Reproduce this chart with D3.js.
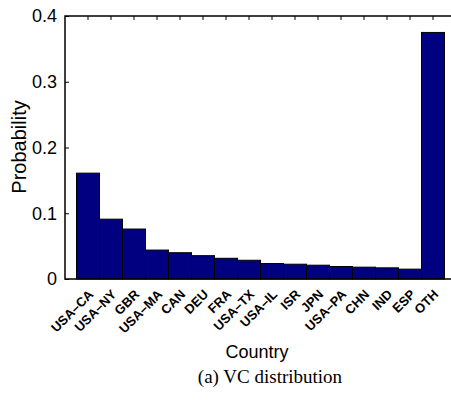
<!DOCTYPE html>
<html>
<head>
<meta charset="utf-8">
<script src="https://cdn.jsdelivr.net/npm/d3@7"></script>
<style>
  body { margin: 0; background: #fff; }
  svg { display: block; }
</style>
</head>
<body>
<div id="chart"></div>
<script>
var countries = ["USA\u2013CA", "USA\u2013NY", "GBR", "USA\u2013MA", "CAN", "DEU", "FRA", "USA\u2013TX",
                 "USA\u2013IL", "ISR", "JPN", "USA\u2013PA", "CHN", "IND", "ESP", "OTH"];
var probability = [0.161, 0.091, 0.076, 0.044, 0.040, 0.0355, 0.0315, 0.0285,
                   0.0235, 0.0225, 0.021, 0.019, 0.018, 0.017, 0.015, 0.375];
var yTicks = [0, 0.1, 0.2, 0.3, 0.4];

var width = 451, height = 401;
var mLeft = 65, mTop = 16, mBottom = 279;
var step = 23;

var svg = d3.select('#chart').append('svg')
    .attr('width', width)
    .attr('height', height);

// x positions: bar i sits at i+1, axis runs from 0 to n+1
var xScale = d3.scaleLinear()
    .domain([0, countries.length + 1])
    .range([mLeft, mLeft + step * (countries.length + 1)]);
var yScale = d3.scaleLinear()
    .domain([0, 0.4])
    .range([mBottom, mTop]);

var data = countries.map(function (c, i) { return {item: c, p: probability[i], pos: i + 1}; });

svg.selectAll('rect.bar')
  .data(data)
  .enter()
  .append('rect')
  .attr('class', 'bar')
  .attr('x', function (d) { return xScale(d.pos - 0.5); })
  .attr('width', function (d) { return xScale(d.pos + 0.5) - xScale(d.pos - 0.5); })
  .attr('y', function (d) { return yScale(d.p); })
  .attr('height', function (d) { return yScale(0) - yScale(d.p); })
  .attr('fill', '#000080')
  .attr('stroke', '#000')
  .attr('stroke-width', 1);

// axes box
var xRight = xScale(countries.length + 1);
svg.append('path')
  .attr('d', 'M' + mLeft + ',' + mBottom + 'V' + mTop + 'H' + xRight + 'V' + mBottom + 'Z')
  .attr('fill', 'none')
  .attr('stroke', '#000')
  .attr('stroke-width', 1.5);

// y ticks (inward) and labels
var yAxis = d3.axisLeft(yScale)
    .tickValues(yTicks)
    .tickSize(-4)
    .tickPadding(8)
    .tickFormat(function (d) { return d === 0 ? '0' : d3.format('.1f')(d); });
var yAxis_g = svg.append('g')
    .attr('transform', 'translate(' + mLeft + ',0)')
    .call(yAxis);
yAxis_g.select('.domain').remove();
yAxis_g.selectAll('text')
  .style('font-family', '"Liberation Sans", Arial, sans-serif')
  .style('font-size', '18px')
  .attr('fill', '#000');

// top ticks (inward)
svg.selectAll('line.toptick')
  .data(data)
  .enter()
  .append('line')
  .attr('x1', function (d) { return xScale(d.pos); })
  .attr('x2', function (d) { return xScale(d.pos); })
  .attr('y1', mTop)
  .attr('y2', mTop + 4)
  .attr('stroke', '#000');

// rotated country labels
svg.selectAll('text.xlab')
  .data(data)
  .enter()
  .append('text')
  .attr('class', 'xlab')
  .attr('transform', function (d) {
    return 'translate(' + (xScale(d.pos) + 3) + ',' + 292 + ') rotate(-45)';
  })
  .attr('text-anchor', 'end')
  .attr('dy', '0.35em')
  .style('font-family', '"Liberation Sans", Arial, sans-serif')
  .style('font-weight', 'bold')
  .style('font-size', '13px')
  .text(function (d) { return d.item; });

svg.append('text')
  .attr('x', 257)
  .attr('y', 358)
  .attr('text-anchor', 'middle')
  .style('font-family', '"Liberation Sans", Arial, sans-serif')
  .style('font-size', '18px')
  .text('Country');

svg.append('text')
  .attr('transform', 'translate(26,147) rotate(-90)')
  .attr('text-anchor', 'middle')
  .style('font-family', '"Liberation Sans", Arial, sans-serif')
  .style('font-size', '20px')
  .text('Probability');

svg.append('text')
  .attr('x', 270)
  .attr('y', 383)
  .attr('text-anchor', 'middle')
  .style('font-family', '"Liberation Serif", "Times New Roman", serif')
  .style('font-size', '19px')
  .text('(a) VC distribution');
</script>
</body>
</html>
